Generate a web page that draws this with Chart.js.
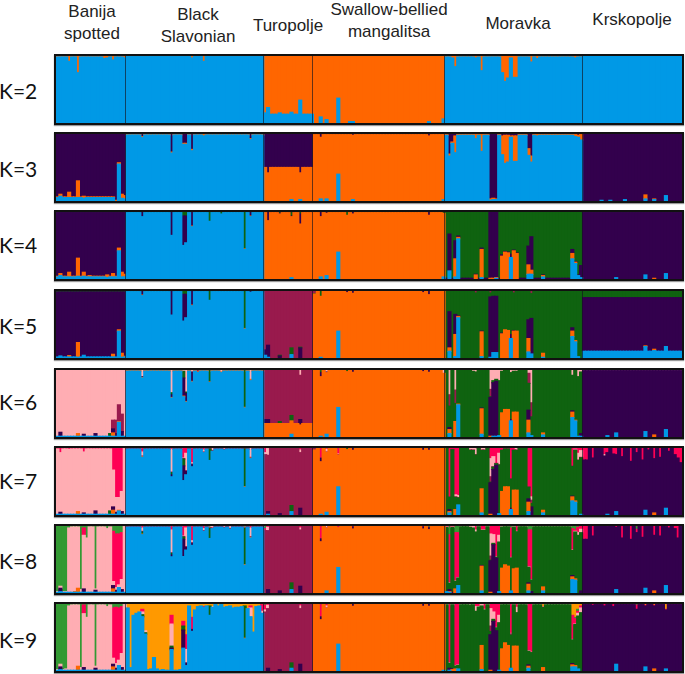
<!DOCTYPE html>
<html><head><meta charset="utf-8">
<script src="https://cdn.jsdelivr.net/npm/chart.js@4"></script>
<style>
html,body{margin:0;padding:0;background:#fff;width:685px;height:674px;overflow:hidden}
.p{position:absolute;left:54px;width:626px;height:67px;border:2px solid #111;box-shadow:0 1px 1px #999;background:#fff}
.p canvas{display:block;filter:blur(.3px)}
.t{position:absolute;font-family:"Liberation Sans",Arial,sans-serif;font-size:17px;line-height:22px;color:#222;text-align:center;white-space:nowrap;transform:translateX(-50%)}
.k{position:absolute;left:-1px;font-family:Lato,"Noto Sans",sans-serif;font-size:21px;line-height:22px;color:#111;white-space:nowrap}
</style></head><body>
<script>
// Populations and individuals
const populations = ["Banija spotted","Black Slavonian","Turopolje","Swallow-bellied mangalitsa","Moravka","Krskopolje"];
const popSizes = [24,47,17,45,47,34];
const panelNames = ["K=2","K=3","K=4","K=5","K=6","K=7","K=8","K=9"];
// Clusters, in stacking order from bottom to top
const clusters = ["b","o","p","g","m","k","r","l","y"];
const clusterColors = {b:"#0099E6",o:"#FF6600",p:"#33004D",g:"#0F6310",m:"#991A4D",k:"#FFADB3",r:"#FF0055",l:"#339933",y:"#FF9900"};

// Per panel: main cluster of each population, typical minor shares, individual columns (percent)
const k2Main = ["b","b","o","o","b","b"];
const k2Base = [{o:1.5},{o:1},{b:13},{},{o:1.5},{o:.8}];
const k2Cols = [[4,{o:8}],[7,{o:25}],[16,{o:4}],[17,{o:3}],[19,{o:6}],[23,{o:3}],[50,{o:8}],[46,{o:3}],
 [71,{b:15}],[72,{b:23}],[76,{b:15}],[80,{b:16}],[83,{b:34}],[90,{b:9}],[92,{b:5}],[96,{b:37}],[100,{b:2}],[101,{b:2}],[127,{b:2}],[132,{b:6}],
 [136,{o:16}],[135,{o:3}],[143,{o:3}],[145,{o:22}],[152,{o:25}],[153,{o:38}],[154,{o:33}],[155,{o:3}],[156,{o:32}],[157,{o:32}],[162,{o:9}],[164,{o:4}],[177,{o:3}]];

const k3Main = ["p","b","o","o","b","p"];
const k3Base = [{b:5,o:1},{o:1.5},{p:50},{p:1},{o:1,p:1},{}];
const k3Cols = [[1,{b:7,o:3}],[4,{b:5,o:8}],[7,{b:5,o:25}],[9,{b:4,o:3}],[20,{b:0,o:1}],[21,{b:55,o:2}],[22,{b:4,o:6}],[23,{b:3,o:5}],
 [29,{p:4}],[39,{p:27}],[43,{p:14}],[44,{p:14}],[46,{p:23,o:2}],[50,{o:3}],[66,{p:7}],
 [72,{p:58}],[80,{p:50,b:2}],[83,{p:58,b:2}],[90,{p:5,b:3}],[92,{b:3}],[96,{b:40}],[101,{p:2,b:2}],[127,{p:3}],[132,{b:2}],
 [134,{p:30,o:3}],[135,{p:12,o:2}],[136,{p:3,o:25}],[143,{o:6}],[145,{o:25}],[148,{p:97,b:1,o:2}],[149,{p:96,b:2,o:2}],[150,{p:97,b:1,o:1}],
 [152,{o:28,p:3}],[153,{o:42,p:2}],[154,{o:40,p:2}],[155,{o:2,p:3}],[156,{o:38,p:3}],[157,{o:38,p:3}],[161,{p:22,o:10}],[162,{p:33,o:9}],[164,{o:2}],[177,{o:3}],[178,{o:3,p:2}],[179,{o:8}],
 [186,{b:1}],[189,{b:1}],[194,{b:2}],[201,{o:6,b:3}],[204,{b:2,o:1}],[208,{b:8}]];

const k4Main = ["p","b","o","o","g","p"];
const k4Base = [{b:3,o:1,g:1},{g:1},{p:1},{g:1},{p:1},{g:1}];
const k4Cols = [[1,{b:5,o:3}],[4,{b:3,o:7}],[7,{b:4,o:27}],[9,{b:4,o:6}],[11,{b:3,o:2}],[17,{b:2,o:4}],[19,{b:3,o:5}],[21,{b:42,o:4}],[22,{b:3,o:7}],[23,{b:3,o:4}],
 [29,{p:6}],[39,{p:34}],[43,{p:44,g:6}],[44,{p:40,g:6}],[46,{p:20,o:1}],[52,{g:14}],[56,{g:3}],[64,{g:55,o:1}],[66,{p:5,o:1}],
 [72,{p:13}],[76,{g:2}],[80,{g:6,b:2}],[83,{p:15,g:3}],[90,{p:6,g:1,b:3}],[92,{b:5,p:1}],[96,{b:40}],[99,{g:5}],[101,{p:2}],[127,{p:4}],[132,{b:3,g:2}],
 [134,{b:12,p:55}],[136,{b:3,o:27,p:27}],[137,{b:60,o:2,p:2}],[143,{o:6}],[145,{b:2,o:42,p:2}],[148,{p:99,o:1}],[149,{p:99,o:1}],[150,{p:98,o:1,b:1}],
 [152,{o:34,p:2}],[153,{o:40}],[154,{o:39}],[155,{b:32,p:5}],[156,{o:42,p:1}],[157,{o:38}],[161,{b:7,o:14,p:28}],[162,{b:7,o:6,p:50}],[166,{b:3,o:2}],
 [176,{b:30,o:8,p:6}],[177,{b:23,o:2}],[178,{b:5}],[179,{b:2,p:18}],
 [191,{b:2}],[201,{b:6}],[204,{o:1}],[208,{b:8}]];

const k5Main = ["p","b","m","o","g","p"];
const k5Base = [{b:1.5,g:1,m:.5},{g:1},{},{g:.5},{m:.5},{b:10,g:10}];
const k5Cols = [[1,{b:3}],[4,{o:2}],[7,{b:1,o:22}],[9,{b:4}],[19,{o:4}],[21,{b:40,o:2}],[22,{b:1,o:6}],[23,{o:1}],
 [29,{p:5,o:1}],[39,{p:35}],[43,{p:40,g:5}],[44,{p:35,g:5}],[46,{p:20,o:1}],[52,{g:14}],[64,{g:56,o:1}],[66,{p:1}],
 [71,{b:4,p:8}],[72,{p:18,b:1}],[76,{p:3,g:1}],[80,{b:5,g:10}],[83,{p:15,g:1}],[88,{m:4}],[90,{g:8,b:1}],[96,{b:40}],[99,{p:2}],[101,{p:3}],[125,{p:2}],[127,{p:5}],
 [134,{b:10,o:5,p:54}],[136,{b:2,o:33,p:30}],[137,{b:60,o:2,p:1}],[143,{m:3}],[145,{b:2,o:37,p:1}],[148,{b:1,p:90,m:3}],[149,{b:8,p:84}],[150,{b:8,p:84}],
 [152,{o:36,p:1}],[153,{o:42}],[154,{o:41}],[155,{b:29,p:6}],[156,{o:40,p:1,m:3}],[157,{o:40}],[161,{b:9,o:20,p:28}],[162,{b:6,p:53,m:4}],[166,{b:1,o:6}],
 [176,{b:32,o:8,p:5}],[177,{b:24,o:2}],[178,{b:2}],
 [201,{b:17,o:1}],[204,{b:11,o:2}],[208,{b:17}]];

const k6Main = ["k","b","m","o","g","p"];
const k6Base = [{b:1},{o:1,k:.7},{o:20},{k:.5},{k:.7},{k:1}];
const k6Cols = [[1,{p:6,b:1}],[7,{o:4}],[9,{p:3,b:1}],[13,{p:4}],[18,{g:4}],[19,{o:5,p:6,m:13}],[20,{p:4,m:20}],[21,{b:22,o:1,m:25}],[22,{p:7,m:26}],
 [29,{k:10,o:1,p:1}],[39,{k:34,g:3,p:4}],[43,{g:10,p:27,k:2}],[44,{p:12,g:2,k:33}],[46,{p:14,k:3}],[48,{m:2}],[52,{g:17}],[56,{k:3}],[64,{g:55,o:1}],[66,{k:14,o:2}],
 [71,{p:6,o:20}],[72,{p:6,o:20}],[76,{g:3}],[80,{b:4,g:8}],[83,{k:8,p:8,o:18}],
 [90,{g:3,p:6,k:1,b:1}],[92,{b:4,p:1,k:3}],[96,{b:44}],[99,{g:2}],[101,{p:3}],[125,{p:2}],[127,{p:3}],[132,{k:5}],
 [134,{b:5,o:6,p:3,m:17,k:37}],[136,{o:23,m:20,k:30}],[137,{b:48,o:1}],[142,{k:2}],[143,{k:3}],[145,{b:4,o:38,p:1}],[148,{o:1,p:58,m:11,k:29}],[149,{b:1,p:80,k:16}],[150,{b:1,p:82,k:14}],[151,{b:2,k:16}],
 [152,{o:36,k:2}],[153,{o:41}],[154,{o:41}],[155,{b:24,p:2,k:4}],[156,{o:37,k:2}],[157,{o:37,k:2}],[161,{b:6,o:19,p:15,m:15,k:5}],[162,{b:2,m:21,k:49}],[166,{b:3,o:3}],
 [176,{b:29,o:8,p:2,k:8}],[177,{b:24,o:1}],[178,{b:1,k:10}],[179,{b:1,p:4,k:3}],
 [188,{b:2}],[191,{b:6}],[201,{b:8}],[204,{o:3}],[208,{b:11}]];

const k7Main = ["k","b","m","o","g","p"];
const k7Base = [{b:1,r:1.5},{m:1,k:.7},{},{m:.5},{m:.7},{r:.7}];
const k7Cols = [[1,{p:3,r:7}],[4,{r:2}],[7,{o:4}],[9,{r:6,p:2}],[13,{p:5}],[18,{g:5}],[19,{r:33,o:6,p:5}],[20,{r:74,p:3}],[21,{b:6,r:74,o:1}],[22,{r:65,p:4}],[23,{r:1}],
 [29,{r:6,k:6,o:1}],[39,{k:34,g:3,p:3,r:2}],[43,{r:15,g:10,p:22}],[44,{r:8,k:26,p:5}],[46,{r:22,k:2,p:3}],[48,{m:1}],[50,{r:3,k:3}],[52,{g:17}],[53,{k:4}],[57,{k:2,m:1}],[64,{g:56,o:1}],[66,{k:14,o:1}],
 [71,{r:7,k:3}],[72,{r:1,k:10,p:4,b:1}],[76,{p:2}],[80,{b:5,g:9}],[83,{p:10,k:4,r:3}],
 [88,{m:3}],[90,{r:15,p:5,b:1}],[92,{b:4,k:4,r:2}],[96,{r:9,k:1,b:42}],[99,{g:2}],[101,{p:3}],[125,{p:3}],[127,{p:3}],
 [134,{b:3,o:2,p:3,r:73}],[135,{r:2}],[136,{o:8,r:70,k:3}],[137,{b:15,r:71,k:3}],[141,{k:3}],[142,{k:3}],[143,{k:10}],[145,{k:3,b:3,o:36}],[146,{k:3}],
 [148,{o:1,p:47,m:8,k:27,r:16}],[149,{p:68,k:15,r:13}],[150,{p:74,r:23}],[151,{b:2,k:17,r:8}],[152,{o:35,r:3}],[153,{o:42,r:1}],[154,{o:42,r:1}],[155,{b:8,p:2,r:46}],[156,{o:37,r:3}],[157,{o:37,k:3}],
 [161,{b:5,o:14,p:5,r:58}],[162,{p:12,m:5,k:5,r:73}],[166,{b:3,o:4}],[176,{b:21,o:6,p:1,r:27}],[177,{b:19,o:2,k:1,r:2}],[178,{k:10,r:8}],[179,{k:10,r:4,b:1}],
 [180,{r:18}],[181,{r:18}],[183,{r:15}],[187,{r:10,k:2}],[188,{r:7,b:1}],[190,{r:9}],[191,{r:10,b:5}],[193,{r:13}],[196,{r:20}],[198,{r:7}],[200,{r:18}],[201,{b:7}],[202,{r:3}],[204,{r:16,o:3}],[206,{r:14}],[208,{b:10}],[209,{r:5}],[211,{r:10}],[212,{r:15}],[213,{r:22}]];

const k8Main = ["k","b","m","o","g","p"];
const k8Base = [{b:1,l:1.5},{m:1,k:.7},{},{m:.5},{k:.6,r:.6},{r:.7}];
const k8Cols = [[0,{l:98}],[1,{b:2,p:5,k:0,l:90}],[2,{l:98}],[3,{l:98}],[4,{l:3}],[6,{o:1}],[7,{o:6}],[8,{l:95}],[9,{r:11,l:3,p:5}],[10,{l:18}],[13,{l:94,p:3}],[17,{l:4}],
 [19,{o:5,p:5,r:75,l:8}],[20,{p:3,r:80,l:12}],[21,{b:8,r:76,l:12}],[22,{p:4,r:70,l:10}],[23,{l:1}],
 [29,{g:3,r:3,k:5,o:1}],[39,{r:6,k:34,g:2,p:3}],[43,{r:15,g:3,p:26}],[44,{r:3,k:28,p:4}],[46,{r:22,p:3,k:3}],[50,{r:3,k:3,l:1}],[52,{g:15,l:2}],[53,{k:3}],[57,{k:2}],[59,{k:4}],[64,{g:54,l:2,o:1}],[66,{k:13,r:3,o:1}],
 [71,{l:4,r:3}],[72,{k:5,r:2,p:5}],[76,{p:3}],[80,{b:5,g:10}],[83,{p:10,k:3,r:3}],
 [90,{r:18,p:4,l:1}],[92,{k:3,b:3}],[96,{b:38,r:2}],[101,{p:3,r:1}],[125,{p:3,r:1}],[127,{p:3,l:2}],[133,{b:2,l:1}],
 [134,{l:13,r:72,p:3,o:1,b:1}],[135,{l:1,p:1}],[136,{l:10,r:72,o:6}],[137,{l:10,r:67,b:11}],[141,{k:1,r:1}],[142,{k:2,r:1}],[143,{k:3,r:6}],[145,{b:3,o:37,p:1,r:6}],[146,{r:6}],
 [148,{o:1,p:47,m:6,k:33,r:12}],[149,{p:72,k:13,r:13}],[150,{p:52,r:46}],[151,{b:2,k:10,r:14}],[152,{o:37,r:1}],[153,{o:42}],[154,{o:40}],[155,{b:3,r:44,l:3}],[156,{o:36,r:1}],[157,{o:37,r:8}],
 [161,{b:3,o:10,p:2,r:55,l:6}],[162,{r:74,l:6,p:2}],[166,{b:3,o:6}],[176,{b:20,o:4,p:2,r:32,l:4}],[177,{b:19,o:2,k:1,r:2,l:6}],[178,{k:4,r:8,l:2}],[179,{p:3,k:5,r:5}],
 [180,{r:20}],[181,{r:20}],[183,{r:15}],[188,{r:1}],[191,{b:5,r:2}],[193,{r:18}],[196,{r:20}],[198,{r:5,l:5}],[200,{r:17}],[201,{b:7}],[204,{r:14,o:3}],[206,{r:15}],[208,{b:11,r:1}],[209,{r:3}],[211,{r:4}],[212,{r:18}]];

const k9Main = ["k","b","m","o","g","p"];
const k9Base = [{b:1,l:1.5},{y:3},{},{m:.5},{k:.6,r:.6},{r:1}];
const k9Cols = [[0,{l:98}],[1,{b:2,p:4,l:90}],[2,{l:98}],[3,{l:97}],[4,{l:3}],[7,{o:6}],[8,{l:95}],[9,{r:13,p:4}],[10,{l:20}],[13,{l:93,p:3}],[17,{l:4}],
 [19,{o:5,p:4,r:75,l:6}],[20,{p:3,r:84,l:5}],[21,{b:8,r:78,l:6}],[22,{p:4,r:70,l:4}],[23,{l:1}],
 [24,{y:6}],[25,{y:95}],[26,{y:17}],[27,{y:14}],[28,{y:12}],[29,{y:8,g:3,r:4,k:4}],[30,{y:40,k:3,g:2}],[31,{y:98}],[32,{y:97}],[33,{y:80}],[34,{y:97}],[35,{y:99}],[36,{y:98}],[37,{y:99}],[38,{y:99}],
 [39,{y:17,r:13,k:33,g:3,p:2}],[40,{y:99}],[41,{y:99}],[42,{y:98}],[43,{y:26,r:7,g:6,p:27}],[44,{y:46,r:22,k:20,p:4}],[45,{y:3}],[46,{y:20,r:18,p:3}],[47,{y:9}],[48,{y:4}],[50,{y:4,r:1}],[52,{g:14}],[53,{y:4,k:1}],[54,{y:1}],[56,{y:1}],[57,{y:5}],[58,{y:4}],[60,{y:6}],[61,{y:5}],[62,{y:5}],[63,{y:4}],[64,{g:48,o:1}],[65,{y:7}],[66,{r:3,k:13}],[67,{y:42}],[68,{y:4}],[70,{r:10,y:1,k:3}],
 [71,{l:2,r:7,k:3}],[72,{k:5,r:2,p:4}],[76,{p:2}],[80,{b:4,g:8}],[83,{p:10,k:4,r:3}],
 [90,{r:18,p:4,l:1}],[92,{k:3,r:3}],[96,{b:40}],[101,{p:3}],[125,{p:3}],[127,{p:3}],[132,{b:1}],
 [134,{r:88,p:3,b:1}],[135,{o:2,p:1}],[136,{r:92,o:3}],[137,{r:90,b:3,y:1}],[141,{k:1}],[143,{r:4,k:7}],[144,{r:4}],[145,{b:2,o:36,r:1,k:2}],[146,{r:8,k:1}],
 [148,{o:1,p:53,m:8,k:26,r:7}],[149,{p:74,k:11,r:12}],[150,{p:60,r:35}],[151,{k:11,r:17,b:1}],[152,{o:33}],[153,{o:42}],[154,{o:38}],[155,{b:4,r:44,m:2}],[156,{o:37}],[157,{o:37,k:8,r:5}],
 [161,{b:4,o:3,p:2,r:70}],[162,{r:72}],[166,{y:4,o:5}],[176,{b:6,o:3,p:2,r:36,y:17}],[177,{b:6,o:2,r:8,y:20,l:2}],[178,{b:3,k:4,r:3,y:8,l:3}],[179,{k:7,y:3,r:3}],
 [183,{r:2}],[187,{r:3}],[191,{b:10}],[190,{r:4}],[198,{r:6,l:2}],[201,{b:6,y:2}],[204,{y:2,o:3}],[208,{y:8,b:3}]];

const mainByPanel = [k2Main,k3Main,k4Main,k5Main,k6Main,k7Main,k8Main,k9Main];
const baseByPanel = [k2Base,k3Base,k4Base,k5Base,k6Base,k7Base,k8Base,k9Base];
const colsByPanel = [k2Cols,k3Cols,k4Cols,k5Cols,k6Cols,k7Cols,k8Cols,k9Cols];

// Page placement of the panels and labels
const panelTops = [54,132,210,289,368,446,524,602];
const kLabelOffsets = [26,26,24,26,23,24,26,27];
const titleSpots = [[92,1,["Banija","spotted"]],[198,4,["Black","Slavonian"]],[288,15,["Turopolje"]],[389,-1,["Swallow-bellied","mangalitsa"]],[518,13,["Moravka"]],[632,9,["Krskopolje"]]];

const popOfIndex = [];
popSizes.forEach((n,p)=>{for(let i=0;i<n;i++)popOfIndex.push(p)});
const individuals = popOfIndex.map((p,i)=>populations[p]+" "+(i+1));
const boundaries = popSizes.slice(0,-1).reduce((a,n)=>{a.push((a.length?a[a.length-1]:0)+n);return a},[]);

const boundaryLines = {id:"boundaryLines",afterDatasetsDraw(c){
  const {ctx,chartArea:a,scales:{x}}=c;
  ctx.save();ctx.strokeStyle="rgba(20,20,30,.65)";ctx.lineWidth=1;
  boundaries.forEach(b=>{const px=Math.round(x.getPixelForValue(b-.5))-.5;
    ctx.beginPath();ctx.moveTo(px,a.top);ctx.lineTo(px,a.bottom);ctx.stroke()});
  ctx.restore();
}};

titleSpots.forEach(([x,y,lines])=>{
  const d=document.createElement("div");d.className="t";d.style.left=x+"px";d.style.top=y+"px";
  d.innerHTML=lines.join("<br>");document.body.appendChild(d);
});

panelNames.forEach((name,pi)=>{
  const l=document.createElement("div");l.className="k";l.textContent=name;l.style.top=(panelTops[pi]+kLabelOffsets[pi])+"px";document.body.appendChild(l);
  const w=document.createElement("div");w.className="p";w.style.top=panelTops[pi]+"px";
  const cv=document.createElement("canvas");cv.width=626;cv.height=67;cv.style.width="626px";cv.style.height="67px";w.appendChild(cv);document.body.appendChild(w);
  const exc={};colsByPanel[pi].forEach(([i,v])=>{exc[i]=Object.assign(exc[i]||{},v)});
  const rows=individuals.map((_,i)=>{
    const p=popOfIndex[i],dom=mainByPanel[pi][p];
    const v=Object.assign({},baseByPanel[pi][p],exc[i]||{});
    let sum=0;for(const c in v){if(c!==dom)sum+=v[c]}
    v[dom]=Math.max(0,100-sum);return v;
  });
  const used=clusters.filter(c=>rows.some(r=>r[c]>0));
  new Chart(cv,{type:"bar",
    data:{labels:individuals,datasets:used.map(c=>({label:c,data:rows.map(r=>r[c]>0?r[c]:null),backgroundColor:clusterColors[c],borderWidth:0,barPercentage:1,categoryPercentage:1,inflateAmount:.6}))},
    options:{responsive:false,animation:false,devicePixelRatio:1,layout:{padding:0},
      plugins:{legend:{display:false},tooltip:{enabled:false}},
      scales:{x:{stacked:true,display:false,offset:true},y:{stacked:true,display:false,min:0,max:100}}},
    plugins:[boundaryLines]});
});
</script>
</body></html>
